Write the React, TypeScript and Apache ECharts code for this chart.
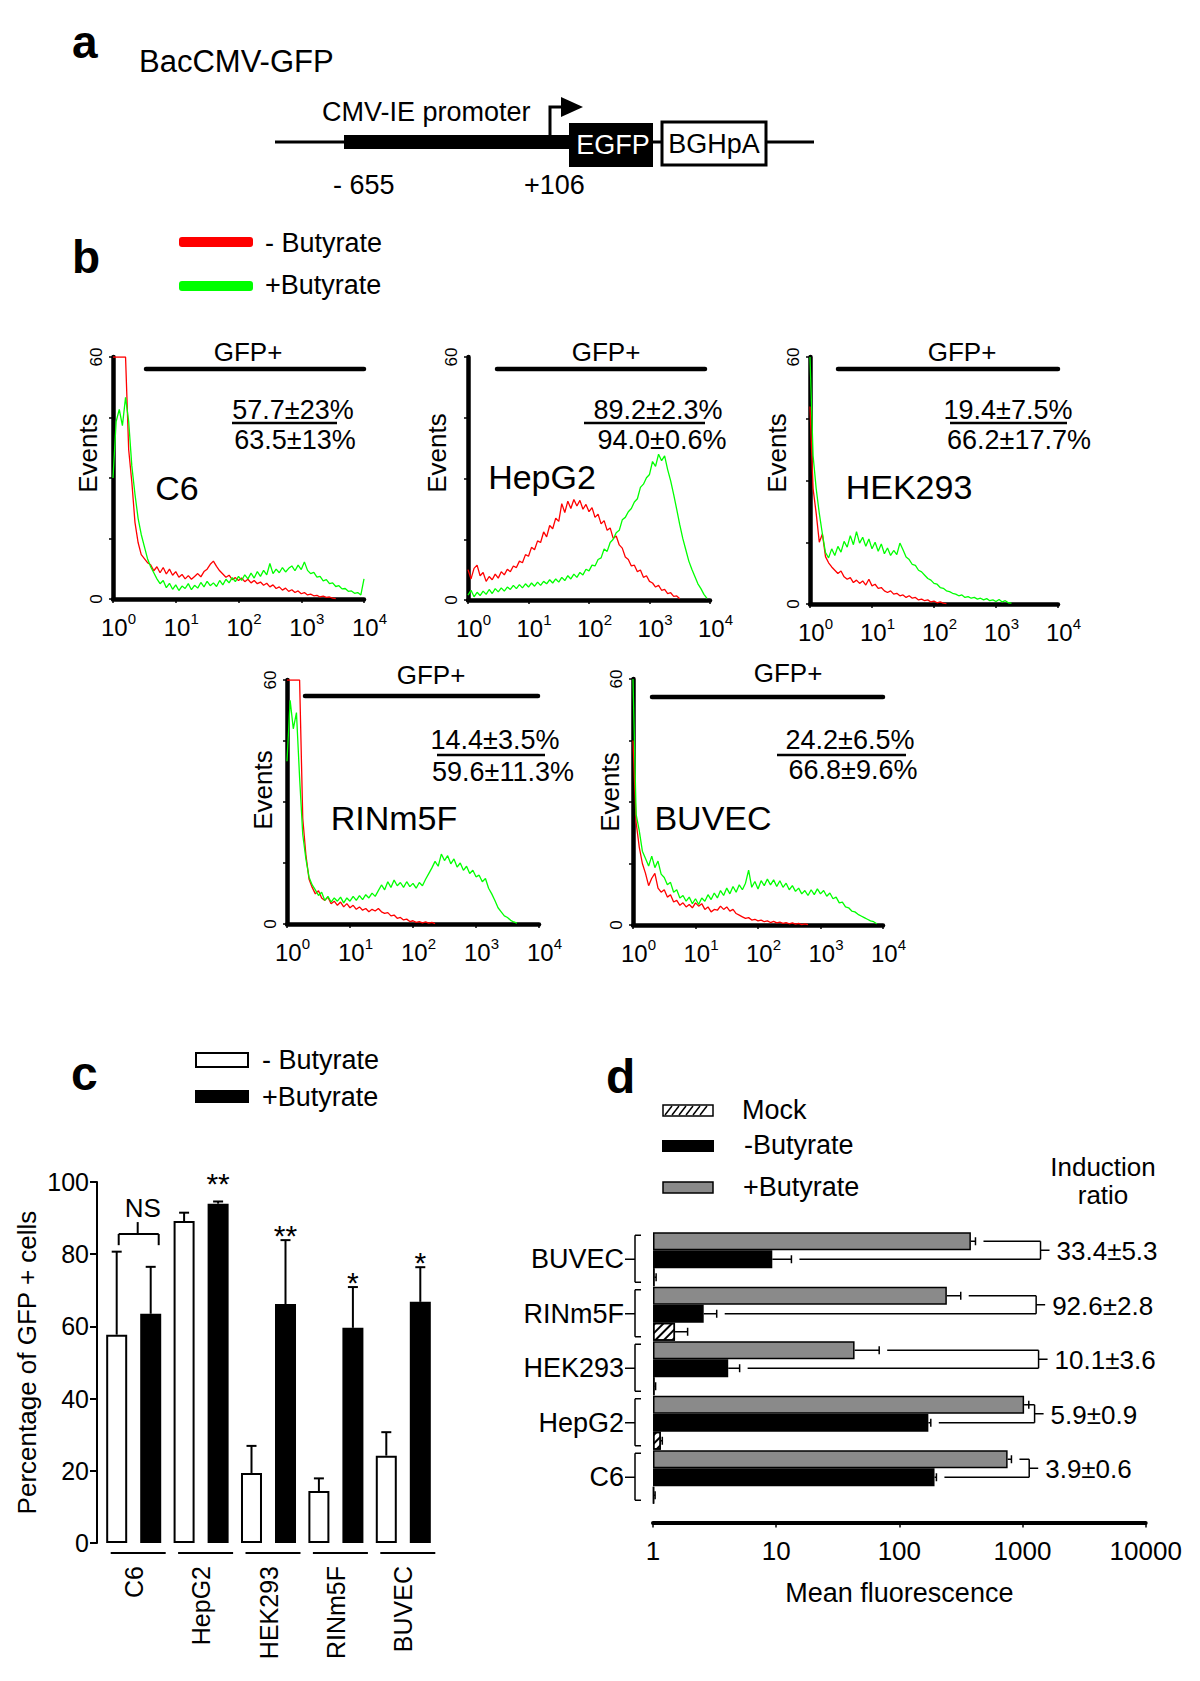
import React, { useEffect, useRef } from 'react';
import * as echarts from 'echarts';

const FONT = '"Liberation Sans", Arial, Helvetica, sans-serif';

// ---------- Panel b: flow-cytometry histograms (events per 0.05-decade channel, from 10^0) ----------
const BIN = 0.05;
const CELL_LINES = ['C6', 'HepG2', 'HEK293', 'RINm5F', 'BUVEC'];

const C6_RED = [60, 60, 60, 60, 60, 37, 29, 19, 14, 11, 10, 9, 8.5, 7, 8, 6.5, 7.8, 6.2, 7.4, 5.9, 6.8, 5.4, 6.1, 5.0, 5.8, 4.9, 5.6, 6.3, 5.5, 6.8, 7.4, 8.6, 9.4, 8.1, 7.0, 6.2, 5.4, 5.9, 4.8, 5.3, 4.6, 5.2, 4.3, 4.9, 4.0, 4.6, 3.8, 4.2, 3.4, 3.9, 3.0, 3.5, 2.6, 3.0, 2.2, 2.7, 1.9, 2.3, 1.6, 2.0, 1.3, 1.6, 1.0, 1.2, 0.8, 0.9, 0.5, 0.7, 0.4, 0.5, 0.2, 0.1];
const C6_GREEN = [30, 44, 47, 43, 50, 44, 33, 26, 20, 16, 13, 10, 8, 6.5, 5, 3.8, 4.6, 2.8, 3.9, 2.4, 3.5, 2.1, 3.2, 2.6, 3.8, 2.3, 3.4, 2.7, 4.1, 3.0, 4.4, 3.3, 4.0, 3.1, 4.6, 3.5, 4.9, 4.0, 5.3, 4.3, 5.6, 4.6, 6.0, 5.0, 6.4, 5.2, 6.8, 5.6, 7.1, 6.0, 8.8, 6.3, 7.4, 6.5, 7.8, 6.7, 7.6, 8.2, 7.0, 8.4, 7.3, 9.2, 7.1, 6.3, 6.6, 5.4, 5.6, 4.5, 4.8, 3.8, 4.0, 3.1, 3.3, 2.5, 2.6, 1.9, 2.0, 1.4, 1.6, 1.0, 5.0];
const HEPG2_RED = [7.5, 5.2, 7.8, 8.6, 6.0, 6.8, 4.6, 5.8, 5.0, 6.4, 5.4, 7.0, 6.2, 7.6, 7.0, 8.4, 8.0, 9.6, 9.2, 11.2, 10.8, 13.0, 12.4, 14.6, 14.2, 16.8, 15.6, 18.4, 17.6, 20.2, 19.4, 23.8, 21.6, 24.4, 22.6, 24.8, 23.2, 24.6, 22.4, 23.6, 21.8, 22.8, 20.4, 21.2, 18.8, 19.6, 17.2, 17.8, 15.2, 15.8, 13.6, 12.8, 10.6, 10.0, 8.4, 8.6, 7.0, 7.4, 5.6, 6.0, 4.6, 4.2, 3.2, 3.6, 2.4, 2.6, 1.6, 1.8, 0.9, 1.0, 0.3];
const HEPG2_GREEN = [1.2, 2.4, 0.8, 1.9, 1.1, 2.2, 1.4, 2.6, 1.6, 2.8, 2.0, 3.0, 2.2, 3.2, 2.6, 3.6, 2.8, 3.8, 3.0, 4.0, 3.2, 4.2, 3.4, 4.4, 3.6, 4.6, 4.0, 5.0, 4.2, 5.2, 4.4, 5.6, 4.8, 6.0, 5.2, 6.4, 5.6, 6.8, 6.2, 7.6, 7.2, 8.6, 8.4, 10.0, 10.4, 12.6, 12.0, 14.2, 15.0, 16.6, 17.2, 19.8, 20.4, 21.8, 22.6, 24.2, 25.0, 27.8, 28.6, 30.2, 31.0, 34.2, 33.0, 36.0, 34.4, 35.6, 32.2, 29.4, 26.0, 22.4, 18.6, 15.2, 12.4, 9.6, 7.6, 5.8, 4.0, 2.8, 1.4, 0.4];
const HEK_RED = [48, 28, 22, 15, 17, 11.5, 10.0, 9.0, 8.2, 7.4, 8.0, 6.6, 6.0, 6.4, 5.2, 5.8, 5.0, 5.6, 4.6, 6.0, 4.4, 4.8, 3.8, 4.0, 3.2, 2.8, 3.2, 2.4, 2.6, 2.0, 2.2, 1.6, 2.0, 1.4, 1.6, 1.0, 1.2, 0.8, 1.0, 0.5, 0.7, 0.3, 0.5, 0.2, 0.1];
const HEK_GREEN = [60, 36, 28, 22, 17, 12.5, 11.2, 13.4, 11.8, 14.0, 12.6, 15.2, 13.8, 16.6, 14.4, 17.6, 14.8, 16.2, 14.0, 15.8, 13.4, 15.0, 12.8, 14.6, 12.2, 13.6, 11.8, 13.0, 12.0, 14.8, 13.2, 11.4, 10.8, 9.6, 9.4, 8.2, 7.8, 7.0, 6.2, 5.8, 5.0, 4.8, 4.0, 3.8, 3.2, 3.0, 2.6, 2.4, 2.0, 2.2, 1.6, 1.8, 1.4, 1.6, 1.2, 1.4, 1.0, 1.3, 0.8, 1.0, 0.6, 1.1, 0.5, 0.8, 0.3, 0.2];
const RIN_RED = [60, 60, 60, 60, 60, 26, 17, 11, 9.0, 7.4, 8.2, 6.4, 5.8, 6.6, 5.0, 5.6, 4.6, 5.4, 4.2, 5.0, 4.0, 4.6, 3.6, 4.2, 3.4, 3.8, 3.0, 3.6, 3.2, 3.8, 3.0, 2.6, 2.8, 2.0, 2.2, 1.4, 1.6, 1.0, 1.2, 0.6, 0.8, 0.4, 0.6, 0.3, 0.5, 0.2, 0.4, 0.1];
const RIN_GREEN = [40, 55, 48, 52, 36, 22, 16, 11.5, 9.6, 8.4, 7.0, 7.8, 5.8, 6.8, 5.4, 6.4, 5.6, 6.6, 5.2, 6.4, 5.6, 6.8, 5.8, 7.0, 6.0, 7.2, 6.4, 7.6, 6.8, 8.2, 9.6, 8.4, 10.4, 9.0, 10.8, 9.4, 10.2, 9.0, 10.4, 9.2, 10.0, 8.8, 10.2, 9.4, 11.0, 12.4, 13.8, 15.4, 14.2, 17.2, 15.6, 16.8, 14.8, 16.0, 14.0, 15.0, 13.2, 14.2, 12.4, 13.2, 11.6, 12.0, 10.4, 11.2, 8.8, 7.4, 5.8, 4.0, 3.0, 2.0, 1.6, 0.9, 0.5, 0.2];
const BUV_RED = [45, 25, 19, 15, 12.6, 9.6, 11.4, 12.6, 9.0, 8.0, 8.6, 6.8, 7.4, 5.6, 6.0, 4.8, 5.4, 4.4, 5.0, 4.2, 5.4, 4.6, 5.2, 3.8, 4.4, 3.2, 3.8, 3.6, 4.6, 3.8, 4.4, 3.4, 3.8, 2.8, 2.4, 2.0, 1.6, 1.8, 1.2, 1.4, 1.0, 1.2, 0.8, 1.0, 0.6, 0.9, 0.5, 0.7, 0.4, 0.6, 0.3, 0.5, 0.2, 0.4, 0.1, 0.3, 0.1];
const BUV_GREEN = [60, 27, 23, 18, 16.2, 14.4, 16.8, 14.0, 15.6, 12.4, 11.6, 9.8, 10.4, 8.0, 8.6, 6.6, 7.2, 5.8, 6.8, 5.2, 6.4, 5.0, 6.6, 5.8, 7.4, 6.2, 7.8, 6.6, 8.4, 7.2, 9.0, 7.6, 9.4, 8.0, 9.8, 8.6, 10.2, 13.4, 9.2, 10.6, 8.8, 10.8, 9.6, 11.2, 9.8, 11.0, 9.4, 10.8, 9.2, 10.2, 8.6, 9.6, 8.2, 9.0, 7.6, 8.4, 7.2, 8.6, 7.4, 8.8, 7.6, 8.4, 7.0, 7.8, 6.4, 6.8, 5.4, 5.6, 4.4, 4.2, 3.4, 3.2, 2.6, 2.2, 1.8, 1.4, 1.0, 0.8, 0.3];

const B_RED = [C6_RED, HEPG2_RED, HEK_RED, RIN_RED, BUV_RED];
const B_GREEN = [C6_GREEN, HEPG2_GREEN, HEK_GREEN, RIN_GREEN, BUV_GREEN];
const B_TOP = ['57.7±23%', '89.2±2.3%', '19.4±7.5%', '14.4±3.5%', '24.2±6.5%'];
const B_BOTTOM = ['63.5±13%', '94.0±0.6%', '66.2±17.7%', '59.6±11.3%', '66.8±9.6%'];
const B_XTICKS = [0, 1, 2, 3, 4];

// ---------- Panel c ----------
const cCategories = ['C6', 'HepG2', 'HEK293', 'RINm5F', 'BUVEC'];
const cMinus = [57.7, 89.2, 19.4, 14.4, 24.2];
const cMinusSD = [23, 2.3, 7.5, 3.5, 6.5];
const cPlus = [63.5, 94.0, 66.2, 59.6, 66.8];
const cPlusSD = [13, 0.6, 17.7, 11.3, 9.6];
const cStars = ['', '**', '**', '*', '*'];

// ---------- Panel d ----------
const dCategories = ['C6', 'HepG2', 'HEK293', 'RINm5F', 'BUVEC'];
const dPlus = [757, 1030, 43.3, 243, 381];
const dPlusErr = [56, 94, 25.3, 72, 34];
const dMinus = [193, 172, 4.08, 2.58, 9.3];
const dMinusErr = [7, 8, 0.97, 0.71, 4.0];
const dMock = [1.02, 1.16, 1.03, 1.51, 1.03];
const dMockErr = [0.02, 0.03, 0.02, 0.4, 0.03];
const dRatio = ['3.9±0.6', '5.9±0.9', '10.1±3.6', '92.6±2.8', '33.4±5.3'];
const dBracket = [1133, 1253, 1350, 1290, 1400];

// ---------- layout (pixels) ----------
const B_LAYOUT = [
  { grid: [113, 357, 251, 242], gfp: [248, 352], gate: [146, 364, 369], t1: [293, 410], ul: [232, 337, 423], t2: [295, 440], name: [177, 488], ev: [88, 453] },
  { grid: [468, 357, 242, 243], gfp: [606, 352], gate: [497, 705, 369], t1: [658, 410], ul: [584, 705, 423], t2: [662, 440], name: [542, 477], ev: [437, 453] },
  { grid: [810, 357, 248, 247], gfp: [962, 352], gate: [838, 1058, 369], t1: [1008, 410], ul: [950, 1067, 423], t2: [1019, 440], name: [909, 487], ev: [777, 453] },
  { grid: [287, 680, 252, 244], gfp: [431, 675], gate: [305, 538, 696], t1: [495, 740], ul: [437, 545, 755], t2: [503, 772], name: [394, 818], ev: [263, 790] },
  { grid: [633, 679, 250, 246], gfp: [788, 673], gate: [652, 883, 697], t1: [850, 740], ul: [777, 906, 755], t2: [853, 770], name: [713, 818], ev: [610, 792] },
];

const gText = (x: number, y: number, text: string, size: number, align = 'center', extra: any = {}) => ({
  type: 'text',
  x,
  y,
  z: 20,
  rotation: extra.rotation || 0,
  style: {
    text,
    fontSize: size,
    fontFamily: FONT,
    fontWeight: extra.bold ? 'bold' : 'normal',
    fill: extra.fill || '#000',
    textAlign: align,
    align,
    textVerticalAlign: 'middle',
    verticalAlign: 'middle',
  },
});
const gLine = (x1: number, y1: number, x2: number, y2: number, w = 3, cap = 'butt') => ({
  type: 'line',
  z: 20,
  shape: { x1, y1, x2, y2 },
  style: { stroke: '#000', lineWidth: w, lineCap: cap },
});
const gRect = (x: number, y: number, w: number, h: number, fill: string, stroke: string | null = null, lw = 0) => ({
  type: 'rect',
  z: 20,
  shape: { x, y, width: w, height: h },
  style: { fill, stroke: stroke || undefined, lineWidth: lw },
});

function buildGraphics() {
  const els: any[] = [];
  // Panel a
  els.push(gText(72, 42, 'a', 46, 'left', { bold: true }));
  els.push(gText(139, 61, 'BacCMV-GFP', 31, 'left'));
  els.push(gLine(275, 142, 814, 142, 3));
  els.push(gRect(344, 135, 225, 14, '#000'));
  els.push({ type: 'polyline', z: 20, shape: { points: [[550, 136], [550, 107], [564, 107]] }, style: { stroke: '#000', lineWidth: 3, fill: null } });
  els.push({ type: 'polygon', z: 20, shape: { points: [[561, 97], [583, 107], [561, 117]] }, style: { fill: '#000' } });
  els.push(gRect(569, 123, 84, 44, '#000'));
  els.push(gText(613, 145, 'EGFP', 27, 'center', { fill: '#fff' }));
  els.push(gRect(662, 122, 104, 43, '#fff', '#000', 3));
  els.push(gText(714, 144, 'BGHpA', 27));
  els.push(gText(322, 112, 'CMV-IE promoter', 27, 'left'));
  els.push(gText(333, 185, '- 655', 27, 'left'));
  els.push(gText(524, 185, '+106', 27, 'left'));

  // Panel b legend
  els.push(gText(72, 257, 'b', 46, 'left', { bold: true }));
  els.push({ ...gRect(179, 237, 74, 10, '#ff0000'), shape: { x: 179, y: 237, width: 74, height: 10, r: 3 } });
  els.push({ ...gRect(179, 281, 74, 10, '#00ff00'), shape: { x: 179, y: 281, width: 74, height: 10, r: 3 } });
  els.push(gText(265, 243, '- Butyrate', 27, 'left'));
  els.push(gText(265, 285, '+Butyrate', 27, 'left'));

  // Panel b annotations
  B_LAYOUT.forEach((L, k) => {
    els.push(gText(L.gfp[0], L.gfp[1], 'GFP+', 26));
    els.push(gLine(L.gate[0], L.gate[2], L.gate[1], L.gate[2], 4.5, 'round'));
    els.push(gText(L.t1[0], L.t1[1], B_TOP[k], 27));
    els.push(gLine(L.ul[0], L.ul[2], L.ul[1], L.ul[2], 2.5));
    els.push(gText(L.t2[0], L.t2[1], B_BOTTOM[k], 27));
    els.push(gText(L.name[0], L.name[1], CELL_LINES[k], 34));
    els.push(gText(L.ev[0], L.ev[1], 'Events', 26, 'center', { rotation: Math.PI / 2 }));
  });

  // Panel c legend
  els.push(gText(71, 1073, 'c', 48, 'left', { bold: true }));
  els.push(gRect(196, 1053, 52, 14, '#fff', '#000', 2));
  els.push(gRect(195, 1090, 54, 13, '#000'));
  els.push(gText(262, 1060, '- Butyrate', 27, 'left'));
  els.push(gText(262, 1097, '+Butyrate', 27, 'left'));

  // Panel d legend
  els.push(gText(606, 1076, 'd', 48, 'left', { bold: true }));
  els.push(gRect(663, 1105, 50, 11, '#fff', '#000', 1.5));
  for (let x0 = 665; x0 <= 705; x0 += 7) {
    els.push(gLine(x0, 1115, x0 + 7, 1106, 1.5));
  }
  els.push(gRect(662, 1140, 52, 12, '#000'));
  els.push(gRect(663, 1182, 50, 11, '#8a8a8a', '#000', 1.5));
  els.push(gText(742, 1110, 'Mock', 27, 'left'));
  els.push(gText(744, 1145, '-Butyrate', 27, 'left'));
  els.push(gText(743, 1187, '+Butyrate', 27, 'left'));
  els.push(gText(1103, 1167, 'Induction', 26));
  els.push(gText(1103, 1195, 'ratio', 26));
  return els;
}

function cAnno(params: any, api: any) {
  const i = params.dataIndex;
  const base = api.coord([i, 0]);
  const cx = base[0];
  const kids: any[] = [];
  const L = (x1: number, y1: number, x2: number, y2: number, w = 2) => ({ type: 'line', shape: { x1, y1, x2, y2 }, style: { stroke: '#000', lineWidth: w } });
  const bars: [number[], number[], number][] = [[cMinus, cMinusSD, -17], [cPlus, cPlusSD, 17]];
  bars.forEach(([v, sd, off]) => {
    const x = cx + off;
    const y1 = api.coord([i, v[i]])[1];
    const y2 = api.coord([i, v[i] + sd[i]])[1];
    kids.push(L(x, y1, x, y2), L(x - 5, y2, x + 5, y2));
  });
  kids.push(L(cx - 23, base[1] + 10, cx + 32, base[1] + 10, 2));
  if (cStars[i]) {
    const yTop = api.coord([i, cPlus[i] + cPlusSD[i]])[1];
    const lift = i === 1 ? 25 : 12;
    kids.push({ type: 'text', x: cx + 17, y: yTop - lift + 7, style: { text: cStars[i], fontSize: 30, fontFamily: FONT, fill: '#000', textAlign: 'center', align: 'center', textVerticalAlign: 'middle', verticalAlign: 'middle' } });
  }
  if (i === 0) {
    const yb = api.coord([i, 85.6])[1];
    const yl = api.coord([i, 82.5])[1];
    const yt = api.coord([i, 88.9])[1];
    const yn = api.coord([i, 92.8])[1];
    kids.push(L(cx - 15, yb, cx + 25, yb), L(cx - 15, yb, cx - 15, yl), L(cx + 25, yb, cx + 25, yl), L(cx + 4, yb, cx + 4, yt));
    kids.push({ type: 'text', x: cx + 9, y: yn, style: { text: 'NS', fontSize: 26, fontFamily: FONT, fill: '#000', textAlign: 'center', align: 'center', textVerticalAlign: 'middle', verticalAlign: 'middle' } });
  }
  return { type: 'group', children: kids };
}

function dAnno(params: any, api: any) {
  const i = params.dataIndex;
  const c = api.coord([1, i]);
  const x0 = c[0];
  const yc = c[1];
  const yG = yc - 18;
  const yB = yc;
  const yM = yc + 18;
  const px = (v: number) => api.coord([v, i])[0];
  const kids: any[] = [];
  const L = (x1: number, y1: number, x2: number, y2: number, w = 1.5) => ({ type: 'line', shape: { x1, y1, x2, y2 }, style: { stroke: '#000', lineWidth: w } });
  const err = (v: number, e: number, y: number) => {
    const a = px(v);
    const b = px(v + e);
    kids.push(L(a, y, b, y), L(b, y - 4, b, y + 4));
    return b;
  };
  const gEnd = err(dPlus[i], dPlusErr[i], yG);
  const bEnd = err(dMinus[i], dMinusErr[i], yB);
  err(dMock[i], dMockErr[i], yM);
  const bx = px(dBracket[i]);
  const s = (e: number) => (e + 8 > bx - 2 ? e : e + 8);
  const ym = (yG + yB) / 2;
  kids.push(L(s(gEnd), yG, bx, yG), L(s(bEnd), yB, bx, yB), L(bx, yG, bx, yB), L(bx, ym, bx + 9, ym));
  kids.push({ type: 'text', x: bx + 16, y: ym + 1, style: { text: dRatio[i], fontSize: 26, fontFamily: FONT, fill: '#000', textAlign: 'left', align: 'left', textVerticalAlign: 'middle', verticalAlign: 'middle' } });
  const lx = x0 - 18;
  kids.push(L(lx, yc - 24, lx, yc + 23), L(lx, yc - 24, lx + 6, yc - 24), L(lx, yc + 23, lx + 6, yc + 23), L(lx - 10, yc, lx, yc));
  return { type: 'group', children: kids };
}

function buildOption() {
  const grids: any[] = [];
  const xAxes: any[] = [];
  const yAxes: any[] = [];
  const series: any[] = [];

  B_LAYOUT.forEach((L, k) => {
    grids.push({ left: L.grid[0], top: L.grid[1], width: L.grid[2], height: L.grid[3], containLabel: false, outerBoundsMode: 'none' });
    xAxes.push({
      type: 'value', gridIndex: k, min: 0, max: 4, interval: 1,
      axisLine: { show: true, lineStyle: { color: '#000', width: 4.5 } },
      axisTick: { show: true, length: 4, lineStyle: { color: '#000', width: 1.5 } },
      splitLine: { show: false },
      axisLabel: {
        formatter: (v: number) => (B_XTICKS.indexOf(v) >= 0 ? `{b|10}{s|${v}}` : ''),
        margin: 12,
        padding: [0, 0, 0, 11],
        rich: {
          b: { fontSize: 24, fontFamily: FONT, color: '#000', lineHeight: 28, verticalAlign: 'bottom' },
          s: { fontSize: 15, fontFamily: FONT, color: '#000', verticalAlign: 'top' },
        },
      },
    });
    yAxes.push({
      type: 'value', gridIndex: k, min: 0, max: 60, interval: 15,
      axisLine: { show: true, lineStyle: { color: '#000', width: 4.5 } },
      axisTick: { show: true, length: 4, lineStyle: { color: '#000', width: 1.5 } },
      splitLine: { show: false },
      axisLabel: { rotate: 90, margin: 8, fontSize: 17, fontFamily: FONT, color: '#000', formatter: (v: number) => (v === 0 || v === 60 ? String(v) : '') },
    });
    series.push({ type: 'line', xAxisIndex: k, yAxisIndex: k, data: B_RED[k].map((v, i) => [i * BIN, v]), symbol: 'none', lineStyle: { color: '#ff0000', width: 1.3 }, z: 3, silent: true });
    series.push({ type: 'line', xAxisIndex: k, yAxisIndex: k, data: B_GREEN[k].map((v, i) => [i * BIN, v]), symbol: 'none', lineStyle: { color: '#00ff00', width: 1.3 }, z: 4, silent: true });
  });

  // Panel c
  grids.push({ left: 100, top: 1182, width: 337, height: 361, containLabel: false, outerBoundsMode: 'none' });
  xAxes.push({
    type: 'category', gridIndex: 5, data: cCategories,
    axisLine: { show: false }, axisTick: { show: false }, splitLine: { show: false },
    axisLabel: { rotate: 90, margin: 23, fontSize: 25, fontFamily: FONT, color: '#000' },
  });
  yAxes.push({
    type: 'value', gridIndex: 5, min: 0, max: 100, interval: 20, offset: 3,
    axisLine: { show: true, lineStyle: { color: '#000', width: 2 } },
    axisTick: { show: true, length: 7, lineStyle: { color: '#000', width: 2 } },
    splitLine: { show: false },
    axisLabel: { fontSize: 25, fontFamily: FONT, color: '#000', margin: 8 },
    name: 'Percentage of GFP + cells', nameLocation: 'middle', nameGap: 57, nameRotate: 90,
    nameTextStyle: { fontSize: 26, fontFamily: FONT, color: '#000' },
  });
  series.push({ type: 'bar', name: '- Butyrate', xAxisIndex: 5, yAxisIndex: 5, data: cMinus, barWidth: 21, barGap: '62%', itemStyle: { color: '#fff', borderColor: '#000', borderWidth: 2 }, z: 2 });
  series.push({ type: 'bar', name: '+Butyrate', xAxisIndex: 5, yAxisIndex: 5, data: cPlus, barWidth: 21, barGap: '62%', itemStyle: { color: '#000', borderColor: '#000', borderWidth: 2 }, z: 2 });
  series.push({ type: 'custom', xAxisIndex: 5, yAxisIndex: 5, data: cCategories.map((_, i) => [i, 0]), encode: { x: 0, y: 1 }, renderItem: cAnno, clip: false, z: 5, silent: true });

  // Panel d
  grids.push({ left: 653, top: 1232, width: 492.7, height: 272.5, containLabel: false, outerBoundsMode: 'none' });
  xAxes.push({
    type: 'log', logBase: 10, gridIndex: 6, min: 1, max: 10000, offset: 18,
    axisLine: { show: true, lineStyle: { color: '#000', width: 4 } },
    axisTick: { show: true, length: 5, lineStyle: { color: '#000', width: 1.5 } },
    minorTick: { show: false }, splitLine: { show: false },
    axisLabel: { fontSize: 26, fontFamily: FONT, color: '#000', margin: 15, formatter: (v: number) => String(Math.round(v)) },
    name: 'Mean fluorescence', nameLocation: 'middle', nameGap: 57,
    nameTextStyle: { fontSize: 27, fontFamily: FONT, color: '#000' },
  });
  yAxes.push({
    type: 'category', gridIndex: 6, data: dCategories,
    axisLine: { show: false }, axisTick: { show: false }, splitLine: { show: false },
    axisLabel: { fontSize: 27, fontFamily: FONT, color: '#000', margin: 29 },
  });
  const dBar = { type: 'bar', xAxisIndex: 6, yAxisIndex: 6, barWidth: 18, barGap: '0%', z: 2 };
  series.push({ ...dBar, name: '+Butyrate', data: dPlus, itemStyle: { color: '#8a8a8a', borderColor: '#000', borderWidth: 1.5 } });
  series.push({ ...dBar, name: '-Butyrate', data: dMinus, itemStyle: { color: '#000', borderColor: '#000', borderWidth: 1.5 } });
  series.push({
    ...dBar, name: 'Mock', data: dMock,
    itemStyle: {
      color: '#fff', borderColor: '#000', borderWidth: 1.5,
      decal: { symbol: 'rect', symbolSize: 1, color: '#000', backgroundColor: '#fff', dashArrayX: [1, 0], dashArrayY: [2, 4], rotation: -Math.PI / 4 },
    },
  });
  series.push({ type: 'custom', xAxisIndex: 6, yAxisIndex: 6, data: dCategories.map((_, i) => [1, i]), encode: { x: 0, y: 1 }, renderItem: dAnno, clip: false, z: 5, silent: true });

  return {
    animation: false,
    backgroundColor: '#fff',
    textStyle: { fontFamily: FONT, color: '#000' },
    grid: grids,
    xAxis: xAxes,
    yAxis: yAxes,
    series,
    graphic: { elements: buildGraphics() },
  };
}

export default function App() {
  const ref = useRef<HTMLDivElement>(null);
  useEffect(() => {
    if (!ref.current) return;
    const chart = echarts.init(ref.current, null, { renderer: 'svg' });
    chart.setOption(buildOption() as any);
    return () => chart.dispose();
  }, []);
  return <div ref={ref} style={{ position: 'absolute', left: 0, top: 0, width: 1200, height: 1681, background: '#fff' }} />;
}
